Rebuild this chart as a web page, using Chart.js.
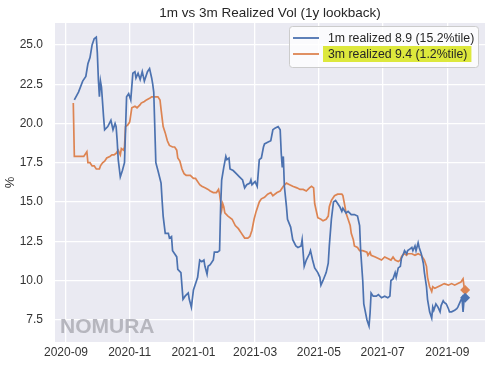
<!DOCTYPE html>
<html><head><meta charset="utf-8">
<script src="https://cdn.jsdelivr.net/npm/chart.js@4/dist/chart.umd.min.js"></script>
<style>html,body{margin:0;padding:0;background:#fff}#wrap{width:500px;height:368px}</style>
</head><body><div id="wrap"><canvas id="c" width="500" height="368"></canvas></div>
<script>
const chartTitle = '1m vs 3m Realized Vol (1y lookback)';
const yAxisLabel = '%';
const watermark = 'NOMURA';
const startDate = '2020-09-01'; // day 0 of the day offsets below
const seriesLabels = ['1m realized 8.9 (15.2%tile)', '3m realized 9.4 (1.2%tile)'];
const seriesColors = ['#4c72b0', '#dd8452'];
const highlightedSeries = 1;

const days1m = [8,12,16,19,21,23,25,27,29,30,31,32,33,34,36,37,40,43,45,47,48,49,50,52,54,56,57,58,60,62,64,66,67,69,71,73,75,78,80,82,83,84,86,88,91,92,93,95,98,99,101,102,104,106,107,110,112,114,117,118,120,122,125,126,128,130,132,133,135,136,138,141,142,145,147,148,149,151,153,154,156,157,160,163,166,169,171,173,176,177,178,181,183,185,187,189,190,193,196,198,200,203,205,206,207,208,209,211,212,215,217,220,222,225,226,228,230,233,234,236,238,241,243,244,246,249,251,252,254,256,258,260,262,264,265,268,270,273,276,279,281,282,284,285,288,290,291,292,294,297,299,302,305,308,310,311,313,315,316,318,320,321,323,324,326,327,329,331,332,334,335,337,338,340,342,343,345,346,348,350,351,352,354,356,358,359,361,362,364,366,367,369,372,374,375,377,379,380,381,382];
const vol1m = [21.5,22.0,22.7,23.0,23.8,24.2,25.0,25.4,25.5,24.5,22.8,21.7,22.7,22.3,20.4,19.6,19.8,20.2,19.6,20.0,19.8,18.9,17.7,16.6,17.0,17.5,19.6,21.7,21.9,21.5,23.2,23.3,22.9,23.2,22.8,23.3,22.7,23.3,23.5,22.9,22.5,22.0,17.5,17.0,16.2,15.1,14.1,13.0,13.0,12.7,12.8,11.9,11.7,11.5,10.7,10.5,8.8,9.0,9.2,8.8,8.3,9.4,10.0,10.2,11.3,11.2,11.3,10.9,10.4,10.9,11.0,11.3,11.8,11.8,11.9,14.7,16.4,17.2,17.9,17.7,17.8,17.1,17.0,16.8,16.6,16.4,15.9,16.1,16.2,16.4,16.1,16.3,16.0,17.7,17.8,18.5,18.7,18.8,18.9,19.6,19.7,19.8,19.6,18.1,17.2,17.9,16.0,14.7,13.9,13.4,12.6,12.2,12.1,12.2,12.6,10.9,11.3,11.7,11.9,11.3,10.8,10.5,10.2,9.7,10.0,10.5,11.1,12.2,13.9,15.0,15.1,14.9,14.7,14.4,14.6,14.3,14.4,14.2,14.2,14.1,13.5,11.9,10.0,8.5,7.5,7.1,7.9,9.2,9.0,9.0,9.1,8.9,9.0,8.9,9.0,10.0,10.1,10.5,10.2,10.8,10.9,11.4,11.7,11.9,11.7,11.9,12.0,12.1,11.9,12.2,11.9,12.4,12.1,11.7,11.1,10.5,9.6,8.8,8.0,7.6,8.3,8.1,8.5,8.3,8.0,8.4,8.7,8.6,8.5,8.2,8.0,8.0,8.1,8.2,8.3,8.6,8.9,8.0,8.8,8.9];

const days3m = [7,8,10,12,13,15,17,20,21,23,25,27,29,32,33,35,37,39,42,44,46,48,50,52,53,55,56,57,59,61,63,66,68,71,72,75,77,80,82,85,88,90,91,93,95,97,99,102,104,106,107,109,111,113,115,119,122,124,127,128,130,133,136,138,141,144,146,147,148,149,150,151,152,155,159,162,165,168,171,174,176,178,180,182,185,187,190,193,196,198,202,205,208,211,214,217,221,224,227,230,233,235,237,238,240,241,244,246,249,251,252,254,256,257,260,264,265,267,268,270,272,273,275,276,279,281,284,288,289,291,292,296,299,302,305,308,311,313,315,318,320,321,323,324,326,327,331,334,337,340,342,343,345,346,348,350,351,353,356,359,362,366,369,372,375,378,380,381,382];
const vol3m = [21.3,17.9,17.9,17.9,17.9,17.9,17.9,18.2,17.5,17.5,17.3,17.3,17.1,17.1,17.3,17.5,17.6,17.8,17.9,18.0,18.0,18.1,18.3,18.0,18.4,18.3,18.5,19.8,19.9,20.1,21.0,21.1,21.0,21.2,21.3,21.4,21.5,21.6,21.7,21.7,21.7,21.5,20.9,19.8,19.4,18.9,18.6,18.5,18.5,18.3,17.8,17.6,17.1,16.8,16.7,16.7,16.5,16.5,16.2,16.1,16.0,15.9,15.8,15.7,15.6,15.6,15.8,15.5,15.0,14.5,14.9,14.7,14.3,14.1,13.9,13.5,13.3,13.0,12.7,12.7,12.8,13.2,13.9,14.4,15.0,15.2,15.3,15.5,15.6,15.4,15.6,15.7,16.0,16.2,16.1,16.0,15.9,15.8,15.8,15.7,15.9,16.0,15.9,14.9,14.3,14.0,13.9,13.8,13.9,14.1,14.7,15.1,15.3,15.4,15.5,15.5,15.4,14.7,14.3,13.9,13.5,13.0,12.6,12.2,12.1,11.9,11.9,11.8,11.6,11.8,11.6,11.5,11.4,11.3,11.5,11.4,11.3,11.5,11.3,11.2,11.3,11.5,11.7,11.7,11.6,11.7,11.7,11.6,11.7,11.6,11.4,11.3,10.9,10.2,9.6,9.3,9.6,9.5,9.6,9.7,9.8,9.7,9.8,9.7,9.8,9.9,10.1,9.6,9.4];

const xTickDays = [0, 61, 122, 181, 242, 303, 365];
const xTickLabels = ['2020-09', '2020-11', '2021-01', '2021-03', '2021-05', '2021-07', '2021-09'];
const yTickValues = [7.5, 10, 12.5, 15, 17.5, 20, 22.5, 25];

const FONT = '"Liberation Sans", Arial, Helvetica, sans-serif';
const toXY = (d, v) => d.map((x, i) => ({ x, y: v[i] }));
const lastOnly = (r) => (ctx) => ctx.dataIndex === ctx.dataset.data.length - 1 ? r : 0;

const decor = {
  id: 'decor',
  beforeDraw(chart) {
    const { ctx, chartArea: a } = chart;
    ctx.save();
    ctx.fillStyle = '#ffffff';
    ctx.fillRect(0, 0, chart.width, chart.height);
    ctx.fillStyle = '#eaeaf2';
    ctx.fillRect(a.left, a.top, a.right - a.left, a.bottom - a.top);
    ctx.restore();
  },
  beforeDatasetsDraw(chart) {
    const { ctx, chartArea: a } = chart;
    ctx.save();
    ctx.font = 'bold 21px ' + FONT;
    ctx.fillStyle = '#b6b6be';
    ctx.textBaseline = 'alphabetic';
    ctx.textAlign = 'left';
    ctx.fillText(watermark, a.left + 5, a.bottom - 9);
    ctx.restore();
  },
  afterDraw(chart) {
    const { ctx, chartArea: a } = chart;
    ctx.save();
    // title
    ctx.font = '13.5px ' + FONT;
    ctx.fillStyle = '#262626';
    ctx.textAlign = 'center';
    ctx.textBaseline = 'middle';
    ctx.fillText(chartTitle, (a.left + a.right) / 2, 13);
    // legend
    const lx = a.right - 196, ly = a.top + 3, lw = 189, lh = 41;
    ctx.beginPath();
    ctx.roundRect(lx + 0.5, ly + 0.5, lw, lh, 3);
    ctx.fillStyle = 'rgba(255,255,255,0.8)';
    ctx.fill();
    ctx.strokeStyle = '#cccccc';
    ctx.lineWidth = 1;
    ctx.stroke();
    ctx.font = '12.3px ' + FONT;
    ctx.textAlign = 'left';
    chart.data.datasets.forEach((ds, i) => {
      const cy = ly + 12 + i * 16;
      if (i === highlightedSeries) {
        const w = ctx.measureText(ds.label).width;
        ctx.fillStyle = '#dde83c';
        ctx.fillRect(lx + 34, cy - 8, w + 9, 16);
      }
      ctx.strokeStyle = ds.borderColor;
      ctx.lineWidth = 1.8;
      ctx.beginPath();
      ctx.moveTo(lx + 4, cy);
      ctx.lineTo(lx + 30, cy);
      ctx.stroke();
      ctx.fillStyle = '#262626';
      ctx.fillText(ds.label, lx + 39, cy + 0.5);
    });
    ctx.restore();
  }
};

new Chart(document.getElementById('c'), {
  type: 'line',
  data: {
    datasets: [
      { label: seriesLabels[0], data: toXY(days1m, vol1m), borderColor: seriesColors[0], backgroundColor: seriesColors[0],
        borderWidth: 1.7, pointRadius: lastOnly(5), pointStyle: 'rectRot', pointBorderWidth: 0, tension: 0 },
      { label: seriesLabels[1], data: toXY(days3m, vol3m), borderColor: seriesColors[1], backgroundColor: seriesColors[1],
        borderWidth: 1.7, pointRadius: lastOnly(5), pointStyle: 'rectRot', pointBorderWidth: 0, tension: 0 }
    ]
  },
  options: {
    responsive: false,
    animation: false,
    devicePixelRatio: 1,
    layout: { padding: { top: 23, right: 15, left: 0, bottom: 0 } },
    plugins: { legend: { display: false }, title: { display: false }, tooltip: { enabled: false } },
    scales: {
      x: {
        type: 'linear', min: -10.5, max: 401,
        afterBuildTicks: (s) => { s.ticks = xTickDays.map(v => ({ value: v })); },
        afterFit: (s) => { s.height = 26; },
        grid: { color: '#ffffff', lineWidth: 1.3, drawTicks: false },
        border: { display: false },
        ticks: { autoSkip: false, maxRotation: 0, padding: 3, color: '#333333', font: { family: FONT, size: 12 },
          callback: (v) => { const i = xTickDays.indexOf(v); return i >= 0 ? xTickLabels[i] : ''; } }
      },
      y: {
        min: 6.08, max: 26.4,
        afterBuildTicks: (s) => { s.ticks = yTickValues.map(v => ({ value: v })); },
        afterFit: (s) => { s.width = 55; },
        grid: { color: '#ffffff', lineWidth: 1.3, drawTicks: false },
        border: { display: false },
        title: { display: true, text: yAxisLabel, color: '#333333', font: { family: FONT, size: 13 }, padding: { top: 3, bottom: 0 } },
        ticks: { padding: 12, color: '#333333', font: { family: FONT, size: 12 }, callback: (v) => Number(v).toFixed(1) }
      }
    }
  },
  plugins: [decor]
});
</script>
</body></html>
